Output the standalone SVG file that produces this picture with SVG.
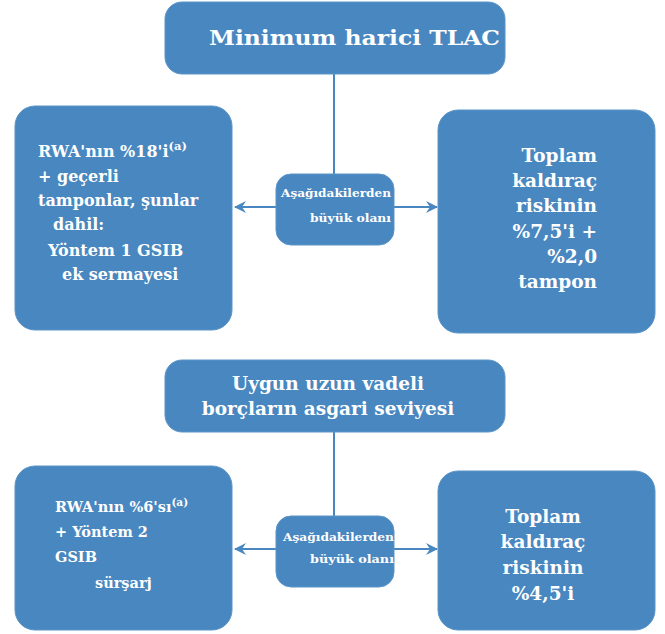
<svg xmlns="http://www.w3.org/2000/svg" width="665" height="634" viewBox="0 0 665 634">
<style>
.box{fill:#4887bf;stroke:#5b95c8;stroke-width:1}
.t{font-family:"DejaVu Serif","Liberation Serif",serif;font-weight:bold;fill:#ffffff}
.e{text-anchor:end}
.m{text-anchor:middle}
.ln{stroke:#4887bf;stroke-width:2;fill:none}
</style>
<defs>
<marker id="ah" viewBox="0 0 12 12" refX="11" refY="6" markerWidth="12" markerHeight="12" markerUnits="userSpaceOnUse" orient="auto">
<path d="M0,0 L12,6 L0,12 L4,6 Z" fill="#4887bf"/>
</marker>
</defs>
<g id="connectors">
<line class="ln" x1="334" y1="74" x2="334" y2="175"/>
<line class="ln" x1="277" y1="207" x2="235" y2="207" marker-end="url(#ah)"/>
<line class="ln" x1="393" y1="207" x2="437" y2="207" marker-end="url(#ah)"/>
<line class="ln" x1="334" y1="432" x2="334" y2="517"/>
<line class="ln" x1="277" y1="549" x2="235" y2="549" marker-end="url(#ah)"/>
<line class="ln" x1="393" y1="549" x2="437" y2="549" marker-end="url(#ah)"/>
</g>
<g id="title1">
<rect class="box" x="165" y="2" width="340" height="72" rx="17"/>
<text class="t" x="209" y="45" font-size="20" textLength="291" lengthAdjust="spacingAndGlyphs">Minimum harici TLAC</text>
</g>
<g id="mid1">
<rect class="box" x="276" y="174" width="118" height="71" rx="15"/>
<text class="t" font-size="11.5" x="281" y="197" textLength="110" lengthAdjust="spacingAndGlyphs">Aşağıdakilerden</text>
<text class="t" font-size="11.5" x="310" y="222" textLength="81" lengthAdjust="spacingAndGlyphs">büyük olanı</text>
</g>
<g id="left1">
<rect class="box" x="15" y="106" width="217" height="224" rx="20"/>
<text class="t" font-size="16" x="38" y="157">RWA'nın %18'i<tspan font-size="11.5" dy="-7">(a)</tspan></text>
<text class="t" font-size="16" x="38" y="182">+ geçerli</text>
<text class="t" font-size="16" x="38" y="206">tamponlar, şunlar</text>
<text class="t" font-size="16" x="53" y="230">dahil:</text>
<text class="t" font-size="16" x="48" y="256">Yöntem 1 GSIB</text>
<text class="t" font-size="16" x="62" y="280">ek sermayesi</text>
</g>
<g id="right1">
<rect class="box" x="438" y="110" width="217" height="223" rx="20"/>
<text class="t e" font-size="18.5" x="597" y="162">Toplam</text>
<text class="t e" font-size="18.5" x="597" y="187">kaldıraç</text>
<text class="t e" font-size="18.5" x="597" y="212">riskinin</text>
<text class="t e" font-size="18.5" x="597" y="238">%7,5'i +</text>
<text class="t e" font-size="18.5" x="597" y="263">%2,0</text>
<text class="t e" font-size="18.5" x="597" y="288">tampon</text>
</g>
<g id="title2">
<rect class="box" x="165" y="360" width="340" height="72" rx="17"/>
<text class="t m" font-size="18.5" x="328" y="390">Uygun uzun vadeli</text>
<text class="t m" font-size="18.5" x="328" y="415">borçların asgari seviyesi</text>
</g>
<g id="mid2">
<rect class="box" x="276" y="516" width="118" height="71" rx="15"/>
<text class="t" font-size="11.5" x="283" y="541" textLength="111" lengthAdjust="spacingAndGlyphs">Aşağıdakilerden</text>
<text class="t" font-size="11.5" x="310" y="563" textLength="84" lengthAdjust="spacingAndGlyphs">büyük olanı</text>
</g>
<g id="left2">
<rect class="box" x="15" y="466" width="217" height="164" rx="20"/>
<text class="t" font-size="14.5" x="55" y="512">RWA'nın %6'sı<tspan font-size="10.5" dy="-6">(a)</tspan></text>
<text class="t" font-size="14.5" x="55" y="537">+ Yöntem 2</text>
<text class="t" font-size="14.5" x="55" y="562">GSIB</text>
<text class="t" font-size="14.5" x="95" y="588">sürşarj</text>
</g>
<g id="right2">
<rect class="box" x="438" y="471" width="217" height="159" rx="20"/>
<text class="t m" font-size="18.5" x="543" y="523">Toplam</text>
<text class="t m" font-size="18.5" x="543" y="548">kaldıraç</text>
<text class="t m" font-size="18.5" x="543" y="574">riskinin</text>
<text class="t m" font-size="18.5" x="543" y="600">%4,5'i</text>
</g>
</svg>
